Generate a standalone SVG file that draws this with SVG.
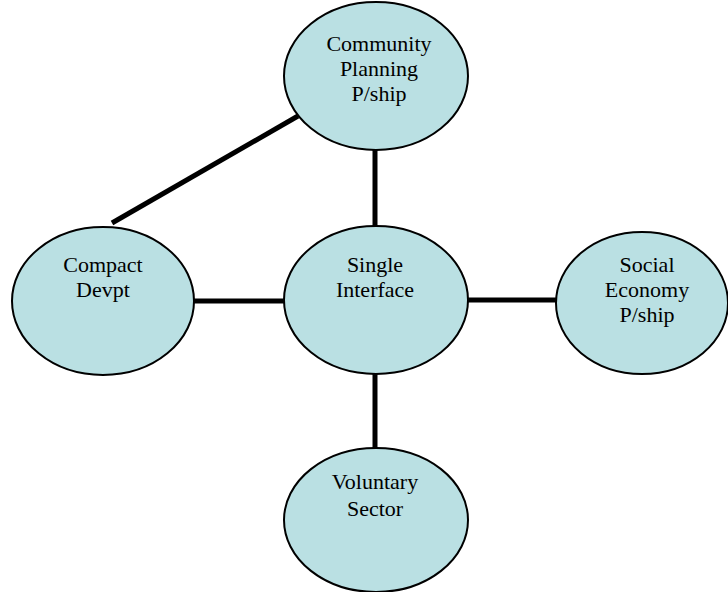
<svg xmlns="http://www.w3.org/2000/svg" width="728" height="592" viewBox="0 0 728 592">
<style>
.n{fill:#bae0e3;stroke:#000;stroke-width:2}
.t{font-family:"Liberation Serif","Times New Roman",serif;font-size:22px;fill:#000;text-anchor:middle}
.c{stroke:#000;stroke-width:5;fill:none}
</style>
<rect width="728" height="592" fill="#fff"/>
<g id="connectors">
<line class="c" x1="112" y1="223" x2="298" y2="116"/>
<line class="c" x1="375" y1="148" x2="375" y2="228"/>
<line class="c" x1="193" y1="301" x2="286" y2="301"/>
<line class="c" x1="466" y1="300" x2="558" y2="300"/>
<line class="c" x1="375" y1="373" x2="375" y2="449"/>
</g>
<g id="community">
<ellipse class="n" cx="376" cy="76" rx="92" ry="74"/>
<text class="t" x="379" y="51">Community</text>
<text class="t" x="379" y="76">Planning</text>
<text class="t" x="379" y="101">P/ship</text>
</g>
<g id="compact">
<ellipse class="n" cx="103" cy="301" rx="91" ry="74"/>
<text class="t" x="103" y="272">Compact</text>
<text class="t" x="103" y="297">Devpt</text>
</g>
<g id="single">
<ellipse class="n" cx="376" cy="300" rx="92" ry="74"/>
<text class="t" x="375" y="272">Single</text>
<text class="t" x="375" y="297">Interface</text>
</g>
<g id="social">
<ellipse class="n" cx="642" cy="303" rx="86" ry="71"/>
<text class="t" x="647" y="272">Social</text>
<text class="t" x="647" y="297">Economy</text>
<text class="t" x="647" y="322">P/ship</text>
</g>
<g id="voluntary">
<ellipse class="n" cx="376" cy="520" rx="92" ry="72"/>
<text class="t" x="375" y="489">Voluntary</text>
<text class="t" x="375" y="516">Sector</text>
</g>
</svg>
